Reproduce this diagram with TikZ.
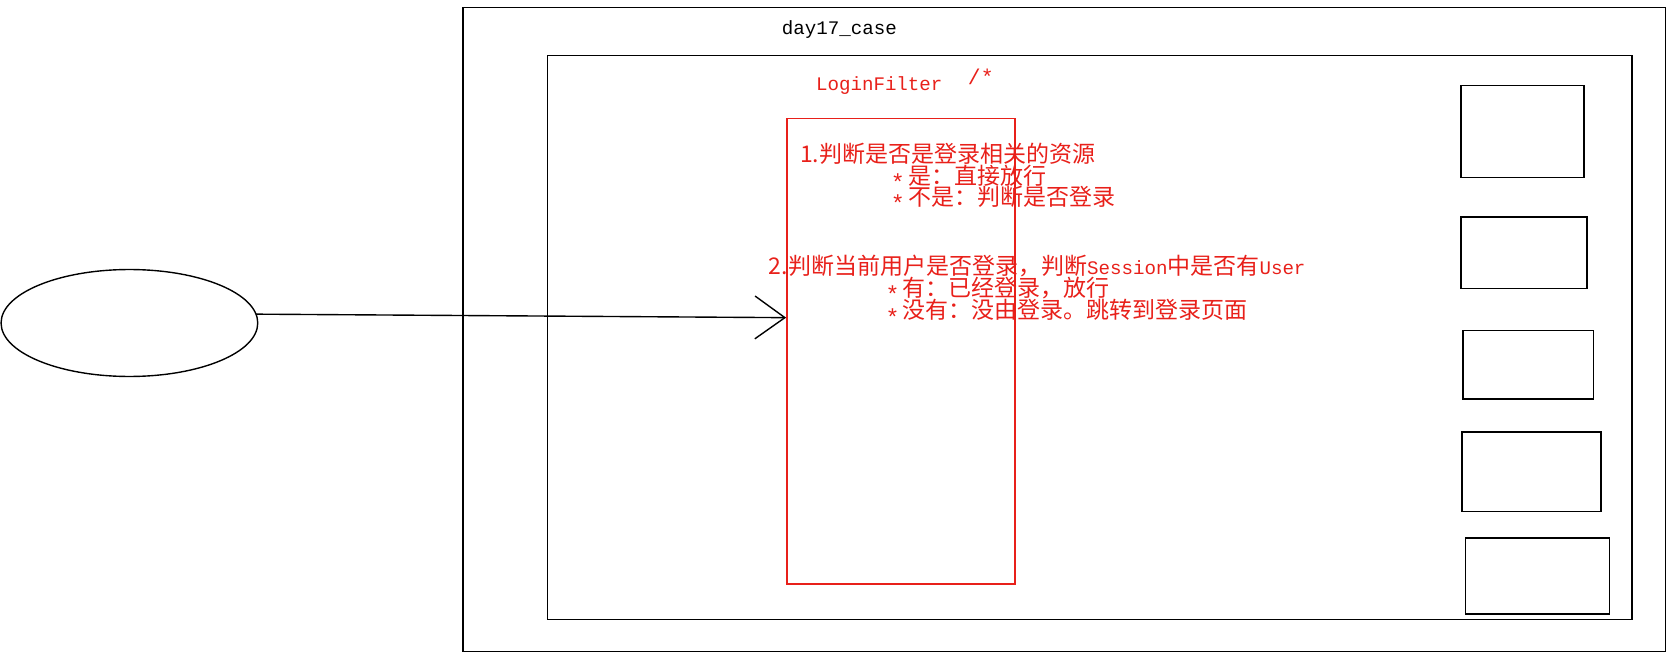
\documentclass[tikz,border=0pt]{standalone}
\usepackage{fontspec}
\usetikzlibrary{arrows.meta,shapes.geometric}
\newfontfamily\cjk{Noto Sans CJK SC}
\newfontfamily\mono[Scale=0.833]{Liberation Mono}
\definecolor{pen}{RGB}{232,32,26}
\newcommand\bullstar{\raisebox{-0.28em}{\mono\fontsize{26}{26}\selectfont*}\hspace{0.15em}}
\begin{document}
\begin{tikzpicture}[x=1pt,y=-1pt,line width=1.3pt,
  box/.style={draw,inner sep=0,outer sep=0,anchor=north west},
  lbl/.style={inner sep=0,outer sep=0,anchor=west,font=\fontsize{21.5}{24}\selectfont},
  rtxt/.style={lbl,text=pen}]
\useasboundingbox (0,0) rectangle (1568,619);
% frames
\node[box,minimum width=1124,minimum height=602] (outer) at (433,7) {};
\node[box,minimum width=1014,minimum height=527] (inner) at (512,52) {};
\node[box,draw=pen,minimum width=213,minimum height=435] (filter) at (736,111) {};
% resource boxes
\node[box,minimum width=115,minimum height=86] (r1) at (1366,80) {};
\node[box,minimum width=118,minimum height=67] (r2) at (1366,203) {};
\node[box,minimum width=122,minimum height=64] (r3) at (1368,309) {};
\node[box,minimum width=130,minimum height=74] (r4) at (1367,404) {};
\node[box,minimum width=135,minimum height=71] (r5) at (1370,503) {};
% client
\node[draw,ellipse,minimum width=240,minimum height=100,inner sep=0,outer sep=0] (client) at (121,302) {};
\coordinate (in) at (735,297);
\draw[-{Straight Barb[length=28pt,width=40pt]}] (client.4) -- (in);
% texts
\node[lbl] (case) at (731,28) {\mono day17\_case};
\node[rtxt] (lf) at (763,80) {\mono LoginFilter};
\node[rtxt] (star) at (905,72) {\mono\fontsize{24}{24}\selectfont /*};
\node[rtxt] (t1) at (748,144) {\cjk 1.判断是否是登录相关的资源};
\node[rtxt] (t2) at (833,166) {\bullstar\cjk 是：直接放行};
\node[rtxt] (t3) at (833,186) {\bullstar\cjk 不是：判断是否登录};
\node[rtxt] (t4) at (719,249) {\cjk 2.判断当前用户是否登录，判断{\mono Session}中是否有{\mono User}};
\node[rtxt] (t5) at (828,271) {\bullstar\cjk 有：已经登录，放行};
\node[rtxt] (t6) at (828,292) {\bullstar\cjk 没有：没由登录。跳转到登录页面};
\end{tikzpicture}
\end{document}
